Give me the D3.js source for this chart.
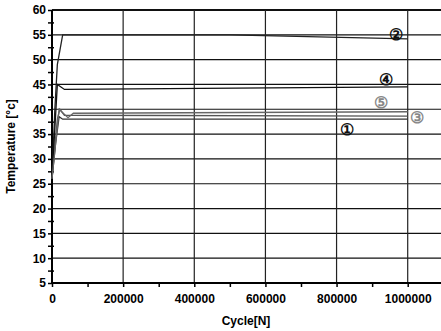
<!DOCTYPE html>
<html>
<head>
<meta charset="utf-8">
<script src="https://cdn.jsdelivr.net/npm/d3@7"></script>
<style>
  body { margin: 0; background: #fff; }
  text { font-family: "Liberation Sans", Arial, sans-serif; font-weight: bold; }
</style>
</head>
<body>
<div class="chart"></div>
<script>
// cycles vs temperature
var series1 = [[0, 26], [10000, 33], [20000, 38.5], [30000, 38], [1000000, 38]];
var series2 = [[0, 26], [8000, 40], [15000, 49], [30000, 55], [500000, 55], [1000000, 54.2]];
var series3 = [[0, 26], [15000, 38], [22000, 40], [35000, 38.8], [1000000, 38.6]];
var series4 = [[0, 26], [15000, 45], [35000, 44], [1000000, 44.5]];
var series5 = [[0, 26], [20000, 40], [45000, 38.3], [60000, 39.2], [1000000, 39.5]];

var labelNames = ["①", "②", "③", "④", "⑤"];
var labelX = [829000, 967000, 1026000, 939000, 925000];
var labelY = [36.0, 55.1, 38.3, 46.1, 41.3];

var xTicks = [0, 200000, 400000, 600000, 800000, 1000000];
var yTicks = [5, 10, 15, 20, 25, 30, 35, 40, 45, 50, 55, 60];

function init() {
    var w = 441;
    var h = 331;
    var left = 52, top = 10, right = 441, bottom = 283;

    var x = d3.scaleLinear().domain([0, 1093600]).range([left, right]);
    var y = d3.scaleLinear().domain([5, 60]).range([bottom, top]);

    var svg = d3.select(".chart")
        .append("svg")
        .attr("width", w)
        .attr("height", h);

    // grid
    svg.append("g")
        .selectAll("line")
        .data(yTicks.slice(1))
        .enter()
        .append("line")
        .attr("x1", left).attr("x2", right)
        .attr("y1", function(d) { return y(d); })
        .attr("y2", function(d) { return y(d); })
        .attr("stroke", "#111")
        .attr("stroke-width", function(d) { return d == 60 ? 2 : 1.2; });

    svg.append("g")
        .selectAll("line")
        .data(xTicks.slice(1))
        .enter()
        .append("line")
        .attr("y1", top).attr("y2", bottom)
        .attr("x1", function(d) { return x(d); })
        .attr("x2", function(d) { return x(d); })
        .attr("stroke", "#222")
        .attr("stroke-width", 1.2);

    // axes
    var xAxis = d3.axisBottom(x)
        .tickValues(d3.range(0, 1000001, 100000))
        .tickSize(4)
        .tickFormat(function(d) { return xTicks.indexOf(d) >= 0 ? d : ""; });
    var gx = svg.append("g")
        .attr("transform", "translate(0," + bottom + ")")
        .call(xAxis);
    gx.select(".domain").attr("stroke-width", 2).attr("d", "M" + left + ",0H" + right);
    gx.selectAll("line").attr("stroke-width", 1.5);
    gx.selectAll("text").attr("font-size", 12).attr("dy", "1.1em");

    var yAxis = d3.axisLeft(y)
        .tickValues(d3.range(5, 60.1, 2.5))
        .tickSize(4)
        .tickFormat(function(d) { return yTicks.indexOf(d) >= 0 ? d : ""; });
    var gy = svg.append("g")
        .attr("transform", "translate(" + left + ",0)")
        .call(yAxis);
    gy.select(".domain").attr("stroke-width", 2).attr("d", "M0," + top + "V" + bottom);
    gy.selectAll("line").attr("stroke-width", 1.5)
        .attr("x1", function(d) { return yTicks.indexOf(d) >= 0 ? 0 : 2; });
    gy.selectAll("text").attr("font-size", 12).attr("x", -6);

    // lines
    var line = d3.line()
        .x(function(d) { return x(d[0]); })
        .y(function(d) { return y(d[1]); });

    var all = [series1, series2, series3, series4, series5];
    var strokes = ["#333", "#222", "#555", "#111", "#666"];
    svg.append("g")
        .selectAll("path")
        .data(all)
        .enter()
        .append("path")
        .attr("d", line)
        .attr("fill", "none")
        .attr("stroke", function(d, i) { return strokes[i]; })
        .attr("stroke-width", 1.3);

    // circled labels
    svg.append("g")
        .selectAll("text")
        .data(labelNames)
        .enter()
        .append("text")
        .attr("x", function(d, i) { return x(labelX[i]); })
        .attr("y", function(d, i) { return y(labelY[i]); })
        .attr("dy", "0.35em")
        .attr("text-anchor", "middle")
        .attr("font-family", "DejaVu Sans")
        .attr("font-size", 16)
        .attr("fill", function(d, i) { return (i == 2 || i == 4) ? "#888" : "#111"; })
        .text(function(d) { return d; });

    svg.append("text")
        .attr("x", 246)
        .attr("y", 325)
        .attr("text-anchor", "middle")
        .attr("font-size", 12)
        .text("Cycle[N]");

    svg.append("text")
        .attr("transform", "translate(15," + ((top + bottom) / 2) + ") rotate(-90)")
        .attr("text-anchor", "middle")
        .attr("font-size", 12)
        .text("Temperature [°c]");
}

init()
</script>
</body>
</html>
